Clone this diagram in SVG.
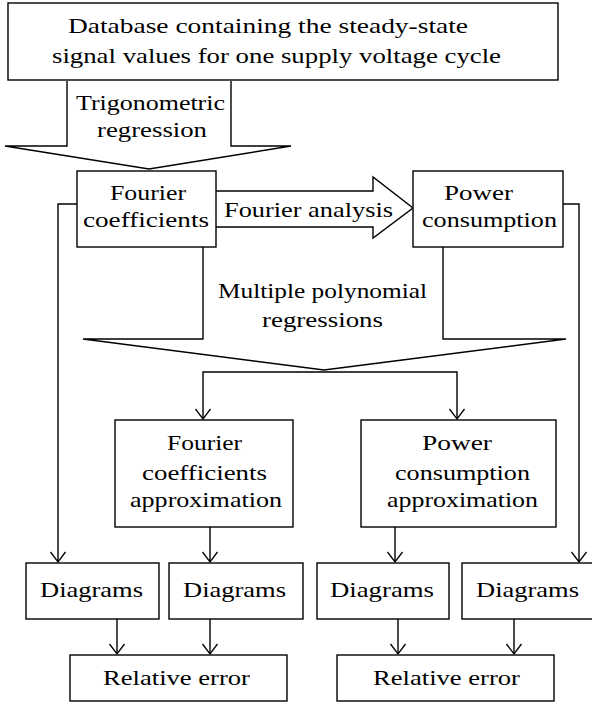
<svg xmlns="http://www.w3.org/2000/svg" width="592" height="703" viewBox="0 0 592 703">
<style>
.box{fill:#fff;stroke:#000;stroke-width:1.4}
.big{fill:#fff;stroke:#000;stroke-width:1.4;stroke-linejoin:miter}
.ln{fill:none;stroke:#000;stroke-width:1.4}
text{font-size:22px;fill:#000}
</style>
<defs>
<marker id="ah" markerUnits="userSpaceOnUse" viewBox="0 -8 11 16" refX="10" refY="0" markerWidth="11" markerHeight="16" orient="auto" overflow="visible">
<path d="M0,-7.5 L10,0 L0,7.5" fill="none" stroke="#000" stroke-width="1.3"/>
</marker>
</defs>
<rect width="592" height="703" fill="#fff"/>
<g id="connectors">
<path class="ln" d="M77,204 H58 V562" marker-end="url(#ah)"/>
<path class="ln" d="M563,204 H579 V562" marker-end="url(#ah)"/>
<path class="ln" d="M324,372 H203 V419" marker-end="url(#ah)"/>
<path class="ln" d="M324,372 H457 V419" marker-end="url(#ah)"/>
<path class="ln" d="M210,527 V562" marker-end="url(#ah)"/>
<path class="ln" d="M395,527 V562" marker-end="url(#ah)"/>
<path class="ln" d="M117,619 V654" marker-end="url(#ah)"/>
<path class="ln" d="M210,619 V654" marker-end="url(#ah)"/>
<path class="ln" d="M398,619 V654" marker-end="url(#ah)"/>
<path class="ln" d="M514,619 V654" marker-end="url(#ah)"/>
</g>
<g font-family="Liberation Serif, serif">
<g id="arrow-trig">
<path class="big" d="M67,81 V146 H5 L149,169 L291,146 H231 V81"/>
<text x="76" y="110" textLength="149" lengthAdjust="spacingAndGlyphs">Trigonometric</text>
<text x="97" y="137" textLength="110" lengthAdjust="spacingAndGlyphs">regression</text>
</g>
<g id="arrow-multi">
<path class="big" d="M203,247 V339 H83 L324,370 L566,339 H443 V247"/>
<text x="218" y="298" textLength="209" lengthAdjust="spacingAndGlyphs">Multiple polynomial</text>
<text x="262" y="327" textLength="121" lengthAdjust="spacingAndGlyphs">regressions</text>
</g>
<g id="arrow-fa">
<path class="big" d="M216,191 H373 V177 L413,208 L373,238 V227 H216"/>
<text x="224" y="217" textLength="169" lengthAdjust="spacingAndGlyphs">Fourier analysis</text>
</g>
<g id="database">
<rect class="box" x="8" y="3" width="550" height="77"/>
<text x="68" y="33" textLength="400" lengthAdjust="spacingAndGlyphs">Database containing the steady-state</text>
<text x="52" y="63" textLength="449" lengthAdjust="spacingAndGlyphs">signal values for one supply voltage cycle</text>
</g>
<g id="fourier-coeff">
<rect class="box" x="77" y="171" width="139" height="76"/>
<text x="110" y="200" textLength="76" lengthAdjust="spacingAndGlyphs">Fourier</text>
<text x="83" y="227" textLength="126" lengthAdjust="spacingAndGlyphs">coefficients</text>
</g>
<g id="power">
<rect class="box" x="413" y="171" width="150" height="76"/>
<text x="444" y="200" textLength="69" lengthAdjust="spacingAndGlyphs">Power</text>
<text x="422" y="227" textLength="135" lengthAdjust="spacingAndGlyphs">consumption</text>
</g>
<g id="fc-approx">
<rect class="box" x="115" y="420" width="178" height="107"/>
<text x="167" y="450" textLength="75" lengthAdjust="spacingAndGlyphs">Fourier</text>
<text x="142" y="480" textLength="125" lengthAdjust="spacingAndGlyphs">coefficients</text>
<text x="130" y="507" textLength="152" lengthAdjust="spacingAndGlyphs">approximation</text>
</g>
<g id="pc-approx">
<rect class="box" x="361" y="420" width="195" height="107"/>
<text x="422" y="450" textLength="70" lengthAdjust="spacingAndGlyphs">Power</text>
<text x="395" y="480" textLength="135" lengthAdjust="spacingAndGlyphs">consumption</text>
<text x="387" y="507" textLength="151" lengthAdjust="spacingAndGlyphs">approximation</text>
</g>
<g id="diagrams1">
<rect class="box" x="26" y="563" width="133" height="56"/>
<text x="40" y="597" textLength="103" lengthAdjust="spacingAndGlyphs">Diagrams</text>
</g>
<g id="diagrams2">
<rect class="box" x="169" y="563" width="134" height="56"/>
<text x="183" y="597" textLength="103" lengthAdjust="spacingAndGlyphs">Diagrams</text>
</g>
<g id="diagrams3">
<rect class="box" x="317" y="563" width="132" height="56"/>
<text x="330" y="597" textLength="104" lengthAdjust="spacingAndGlyphs">Diagrams</text>
</g>
<g id="diagrams4">
<rect class="box" x="462" y="563" width="135" height="56"/>
<text x="476" y="597" textLength="103" lengthAdjust="spacingAndGlyphs">Diagrams</text>
</g>
<g id="rel-error1">
<rect class="box" x="70" y="655" width="217" height="46"/>
<text x="103" y="685" textLength="147" lengthAdjust="spacingAndGlyphs">Relative error</text>
</g>
<g id="rel-error2">
<rect class="box" x="337" y="655" width="217" height="46"/>
<text x="373" y="685" textLength="147" lengthAdjust="spacingAndGlyphs">Relative error</text>
</g>
</g>
</svg>
